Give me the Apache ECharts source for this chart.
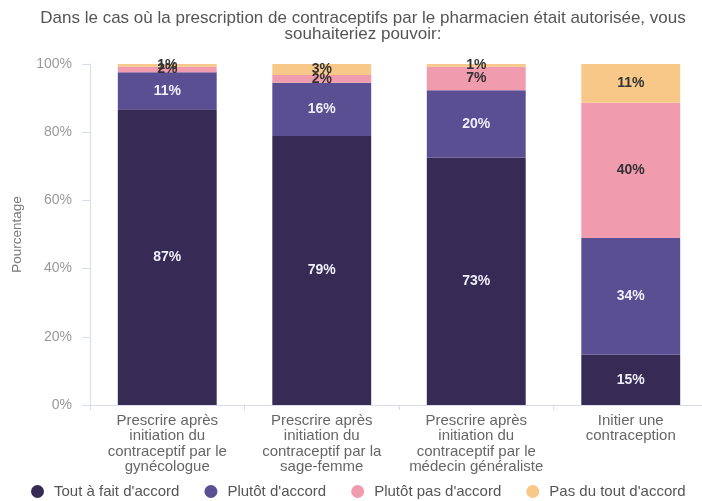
<!DOCTYPE html>
<html><head><meta charset="utf-8">
<script src="https://cdn.jsdelivr.net/npm/echarts@6/dist/echarts.min.js"></script>
<style>html,body{margin:0;padding:0;background:#fff;overflow:hidden}#c{width:708px;height:501px}</style>
</head><body><div id="c"></div>
<script>
const categories = [
  "Prescrire après\ninitiation du\ncontraceptif par le\ngynécologue",
  "Prescrire après\ninitiation du\ncontraceptif par la\nsage-femme",
  "Prescrire après\ninitiation du\ncontraceptif par le\nmédecin généraliste",
  "Initier une\ncontraception"
];
const seriesNames = ["Tout à fait d'accord", "Plutôt d'accord", "Plutôt pas d'accord", "Pas du tout d'accord"];
const toutAFait = [86.7, 78.9, 72.6, 14.7];
const plutotAccord = [10.9, 15.6, 19.7, 34.3];
const plutotPas = [1.6, 2.3, 6.9, 39.6];
const pasDuTout = [0.8, 3.2, 0.8, 11.4];
const yTicks = [0, 20, 40, 60, 80, 100];

const colors = ["#352b54", "#5b4f93", "#f09bae", "#f8c888"];
const labelColors = ["#f0eefa", "#f0eefa", "#333", "#333"];
const values = [toutAFait, plutotAccord, plutotPas, pasDuTout];

const chart = echarts.init(document.getElementById('c'));
chart.setOption({
  animation: false,
  textStyle: {fontFamily: "Liberation Sans, Arial, sans-serif"},
  title: {
    text: "Dans le cas où la prescription de contraceptifs par le pharmacien était autorisée, vous\nsouhaiteriez pouvoir:",
    left: 358, top: 5, textAlign: 'center',
    textStyle: {fontSize: 17, fontWeight: 'normal', color: '#555', lineHeight: 16}
  },
  legend: {
    bottom: -3, left: 26, icon: 'circle', itemWidth: 13, itemHeight: 13, itemGap: 25,
    textStyle: {fontSize: 15, color: '#555', padding: [0, 0, 0, 5]},
    data: seriesNames
  },
  grid: {left: 90, top: 64, right: 0, height: 341},
  xAxis: {
    type: 'category', data: categories,
    axisLine: {lineStyle: {color: '#d8dcf0'}},
    axisTick: {show: true, lineStyle: {color: '#d8dcf0'}},
    axisLabel: {color: '#666', fontSize: 15, lineHeight: 15.5, margin: 8, interval: 0}
  },
  yAxis: {
    type: 'value', min: 0, max: 100, interval: 20,
    name: 'Pourcentage', nameLocation: 'middle', nameGap: 66, nameRotate: 90,
    nameTextStyle: {color: '#777', fontSize: 13.5},
    axisLine: {show: true, lineStyle: {color: '#d8dcf0'}},
    axisTick: {show: true, length: 8, lineStyle: {color: '#d8dcf0'}},
    splitLine: {show: false},
    axisLabel: {color: '#999', fontSize: 14, margin: 18, formatter: v => yTicks.includes(v) ? v + '%' : ''}
  },
  series: values.map((vals, i) => ({
    name: seriesNames[i], type: 'bar', stack: 'total', barWidth: '64%',
    data: vals,
    itemStyle: {color: colors[i]},
    label: {
      show: true, position: 'inside', fontSize: 14, fontWeight: 'bold', color: labelColors[i],
      formatter: p => Math.round(p.value) + '%'
    }
  }))
});
</script></body></html>
